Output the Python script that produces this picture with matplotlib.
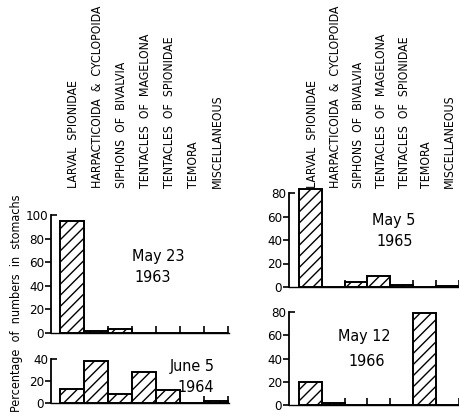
import matplotlib
matplotlib.use("Agg")
import matplotlib.pyplot as plt
import matplotlib.transforms as mtransforms
from matplotlib import font_manager

# Stomach contents by food category, percentage of numbers
categories = [
    "LARVAL  SPIONIDAE",
    "HARPACTICOIDA  &  CYCLOPOIDA",
    "SIPHONS  OF  BIVALVIA",
    "TENTACLES  OF  MAGELONA",
    "TENTACLES  OF  SPIONIDAE",
    "TEMORA",
    "MISCELLANEOUS",
]
may23_1963 = [95, 1.5, 3.5, 0, 0, 0, 0]
june5_1964 = [13, 38, 8, 28.5, 12, 0, 1.5]
may5_1965 = [83, 0, 4, 9.5, 1.5, 0, 0.5]
may12_1966 = [20, 1.5, 0, 0, 0, 79, 0]

ylabel = "Percentage  of  numbers  in  stomachs"

names = {f.name for f in font_manager.fontManager.ttflist}
if "Liberation Sans Narrow" in names:
    FONT = ["Liberation Sans Narrow", "DejaVu Sans"]
    STRETCH = "normal"
else:
    FONT = ["DejaVu Sans"]
    STRETCH = "condensed"

plt.rcParams["font.family"] = FONT
plt.rcParams["hatch.linewidth"] = 1.0
plt.rcParams["hatch.color"] = "black"

W, H = 459, 416
fig = plt.figure(figsize=(W / 100, H / 100), dpi=100)
fig.patch.set_facecolor("white")


def px_axes(x0, x1, ytop, ybot):
    return fig.add_axes([x0 / W, (H - ybot) / H, (x1 - x0) / W, (ybot - ytop) / H])


def label_at(x, y, s, size=11.5):
    fig.text(x / W, (H - y) / H, s, ha="center", va="center",
             fontsize=size, fontstretch=STRETCH)


def panel(ax, values, ymax, yticks, xlim):
    x = list(range(len(values)))
    ax.bar(x, values, width=1.0, color="white", edgecolor="black",
           linewidth=1.4, hatch="///", clip_on=False, zorder=3)
    ax.set_xlim(*xlim)
    ax.set_ylim(0, ymax)
    for s in ("top", "right"):
        ax.spines[s].set_visible(False)
    ax.spines["left"].set_linewidth(1.3)
    ax.spines["left"].set_bounds(0, yticks[-1])
    ax.spines["bottom"].set_linewidth(1.0)
    ax.spines["bottom"].set_linestyle((0, (1, 1)))
    # lower y ticks point outward; the top one turns inward at the corner
    ax.set_yticks(yticks[:-1])
    ax.set_yticklabels([str(v) for v in yticks[:-1]], fontsize=9.5,
                       fontstretch=STRETCH)
    ax.set_yticks([yticks[-1]], minor=True)
    ax.set_yticklabels([str(yticks[-1])], minor=True, fontsize=9.5,
                       fontstretch=STRETCH)
    ax.tick_params(axis="y", which="major", direction="out", length=4,
                   width=1.2, pad=1)
    ax.tick_params(axis="y", which="minor", direction="in", length=4,
                   width=1.2, pad=2)
    bounds = [i + 0.5 for i in range(len(values))]
    ax.set_xticks(bounds)
    ax.set_xticklabels([])
    ax.tick_params(axis="x", which="both", direction="in", length=5, width=1.2)
    ax.xaxis.set_minor_locator(matplotlib.ticker.NullLocator())


# left column
axA = px_axes(51, 229, 215, 333)
panel(axA, may23_1963, 100, [0, 20, 40, 60, 80, 100], (-0.875, 6.54))
label_at(158, 257, "May 23")
label_at(153, 278, "1963")

axB = px_axes(51, 229, 359, 403)
panel(axB, june5_1964, 40, [0, 20, 40], (-0.875, 6.54))
label_at(192, 366, "June 5")
label_at(196, 387, "1964")

# right column
axC = px_axes(289, 459, 193, 287)
panel(axC, may5_1965, 80, [0, 20, 40, 60, 80], (-0.929, 6.37))
label_at(394, 220, "May 5")
label_at(395, 242, "1965")

axD = px_axes(289, 459, 312, 405)
panel(axD, may12_1966, 80, [0, 20, 40, 60, 80], (-0.929, 6.37))
label_at(364, 337, "May 12")
label_at(367, 361, "1966")

# category names standing above each column
for ax, dx in ((axA, 0.05), (axC, 0.1)):
    trans = mtransforms.blended_transform_factory(ax.transData, fig.transFigure)
    for i, name in enumerate(categories):
        ax.text(i + dx, (H - 188) / H, name, transform=trans, rotation=90,
                ha="center", va="bottom", fontsize=8.8, fontstretch=STRETCH,
                clip_on=False)

fig.text(17 / W, (H - 303) / H, ylabel, rotation=90, ha="center", va="center",
         fontsize=9, fontstretch=STRETCH)

fig.savefig("out.png", dpi=100)
